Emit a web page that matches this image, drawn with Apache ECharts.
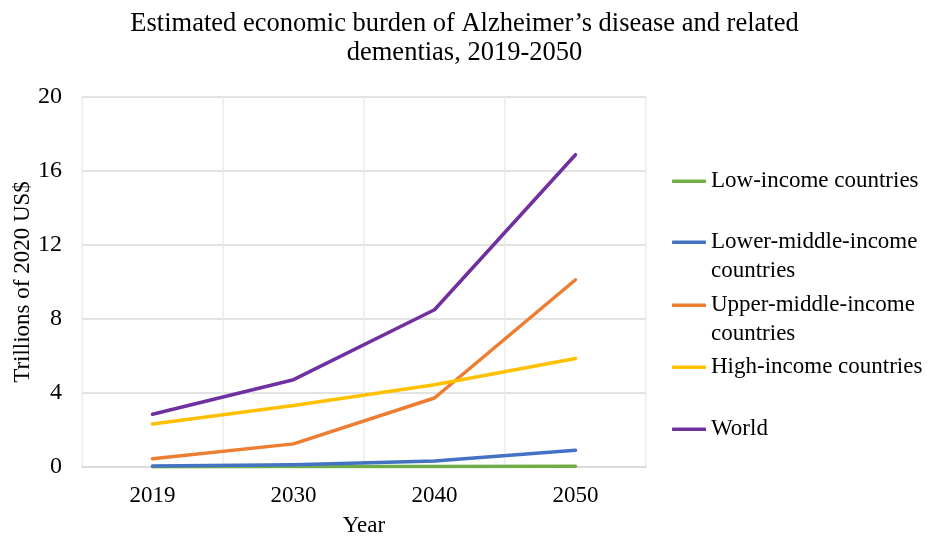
<!DOCTYPE html>
<html>
<head>
<meta charset="utf-8">
<script src="https://cdn.jsdelivr.net/npm/echarts@6/dist/echarts.min.js"></script>
<style>
  html, body { margin: 0; padding: 0; background: #fff; overflow: hidden; }
  #chart { width: 929px; height: 537px; }
</style>
</head>
<body>
<div id="chart"></div>
<script>
// Economic burden of dementia, trillions of 2020 US$
const years = ['2019', '2030', '2040', '2050'];
const lowIncome = [0.02, 0.03, 0.03, 0.04];
const lowerMiddleIncome = [0.06, 0.12, 0.33, 0.90];
const upperMiddleIncome = [0.45, 1.25, 3.73, 10.12];
const highIncome = [2.32, 3.33, 4.45, 5.87];
const world = [2.85, 4.72, 8.50, 16.88];

const seriesNames = [
  'Low-income countries',
  'Lower-middle-income countries',
  'Upper-middle-income countries',
  'High-income countries',
  'World'
];
// names shown on two lines in the legend
const legendLines = {
  'Lower-middle-income countries': ['Lower-middle-income', 'countries'],
  'Upper-middle-income countries': ['Upper-middle-income', 'countries']
};
const seriesData = [lowIncome, lowerMiddleIncome, upperMiddleIncome, highIncome, world];
const colors = ['#70AD47', '#4472C4', '#ED7D31', '#FFC000', '#7030A0'];

const FONT = '"Liberation Serif", "Times New Roman", serif';
const LINE_H = 28.5;
// vertical centre of each legend icon
const legendIconY = [184, 245, 308, 370, 432];

const legends = seriesNames.map((name, i) => {
  const twoLine = !!legendLines[name];
  const boxH = twoLine ? LINE_H * 3 : LINE_H;
  return {
    data: [name],
    orient: 'vertical',
    left: 672,
    top: legendIconY[i] - boxH / 2,
    padding: 0,
    icon: 'roundRect',
    itemWidth: 34,
    itemHeight: 3.5,
    itemGap: 0,
    selectedMode: false,
    formatter: function (n) {
      if (legendLines[n]) {
        // a blank first line keeps the icon level with the first text line
        return '{b| }\n{a|' + legendLines[n][0] + '}\n{a|' + legendLines[n][1] + '}';
      }
      return '{a|' + n + '}';
    },
    textStyle: {
      rich: {
        a: { fontFamily: FONT, fontSize: 23, color: '#000', lineHeight: LINE_H },
        b: { fontFamily: FONT, fontSize: 23, color: '#000', lineHeight: LINE_H }
      }
    }
  };
});

const chart = echarts.init(document.getElementById('chart'), null, { renderer: 'canvas' });
chart.setOption({
  animation: false,
  backgroundColor: '#fff',
  color: colors,
  title: {
    text: 'Estimated economic burden of Alzheimer\u2019s disease and related\ndementias, 2019-2050',
    left: 'center',
    top: 5,
    textStyle: {
      fontFamily: FONT,
      fontSize: 26.5,
      fontWeight: 'normal',
      color: '#000',
      lineHeight: 29
    }
  },
  legend: legends,
  grid: {
    left: 82,
    right: 283,
    top: 97,
    bottom: 70,
    outerBoundsMode: 'none',
    containLabel: false
  },
  xAxis: {
    type: 'category',
    data: years,
    boundaryGap: true,
    name: 'Year',
    nameLocation: 'middle',
    nameGap: 47,
    nameTextStyle: { fontFamily: FONT, fontSize: 23, color: '#000' },
    axisLine: { show: true, lineStyle: { color: '#D9D9D9', width: 1.5 } },
    axisTick: { show: false },
    axisLabel: { fontFamily: FONT, fontSize: 23, color: '#000', margin: 17 },
    splitLine: { show: true, lineStyle: { color: '#EBEBEB', width: 1.5 } }
  },
  yAxis: {
    type: 'value',
    min: 0,
    max: 20,
    interval: 4,
    name: 'Trillions of 2020 US$',
    nameLocation: 'middle',
    nameGap: 48,
    nameMoveOverlap: false,
    nameTextStyle: { fontFamily: FONT, fontSize: 23, color: '#000' },
    axisLine: { show: false },
    axisTick: { show: false },
    axisLabel: { fontFamily: FONT, fontSize: 24, color: '#000', margin: 20 },
    splitLine: { show: true, lineStyle: { color: '#D9D9D9', width: 1.5 } }
  },
  series: seriesNames.map((name, i) => ({
    name: name,
    type: 'line',
    data: seriesData[i],
    symbol: 'none',
    lineStyle: { width: 3.5, color: colors[i], cap: 'round', join: 'round' },
    itemStyle: { color: colors[i] },
    z: 2 + i
  }))
});
</script>
</body>
</html>
